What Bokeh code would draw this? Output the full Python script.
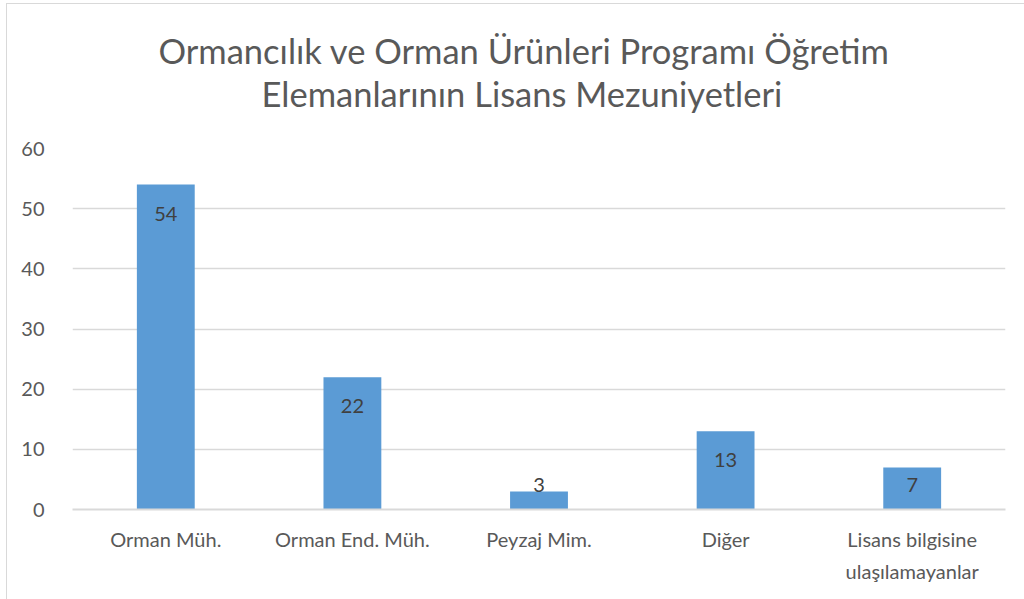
from bokeh.plotting import figure
from bokeh.models import Title, FactorRange, Range1d, ColumnDataSource, FixedTicker
from bokeh.core.properties import value
from bokeh.embed import file_html
from bokeh.resources import INLINE

categories = ["Orman Müh.", "Orman End. Müh.", "Peyzaj Mim.", "Diğer", "Lisans bilgisine\nulaşılamayanlar"]
counts = [54, 22, 3, 13, 7]
y_ticks = [0, 10, 20, 30, 40, 50, 60]
title_lines = ["Ormancılık ve Orman Ürünleri Programı Öğretim", "Elemanlarının Lisans Mezuniyetleri"]

FONT = "Lato"
GRAY = "#595959"
GRID = "#d9d9d9"
BAR = "#5b9bd5"

W, H = 1017, 595
LEFT, RIGHT, TOP, BOTTOM = 65, 19, 144, 90
frame_h = H - TOP - BOTTOM
ymax = 60
px_per_unit = frame_h / ymax

p = figure(
    width=W, height=H,
    x_range=FactorRange(*categories, range_padding=0),
    y_range=Range1d(0, ymax),
    output_backend="svg", toolbar_location=None,
    min_border_left=LEFT, min_border_right=RIGHT,
    min_border_top=TOP, min_border_bottom=BOTTOM,
    background_fill_color="white", border_fill_color="white",
    outline_line_color=None,
)
p.title = None
p.styles = {"outline": "1px solid #d9d9d9", "margin-left": "7px", "margin-top": "4px"}

# spacer between the title block and the plot area, then line 2, then line 1
p.add_layout(Title(text=" ", text_font_size="1px", standoff=32), "above")
p.add_layout(Title(text=title_lines[1], align="left", offset=189, text_font=FONT, text_font_size="34.5px",
                   text_color=GRAY, text_font_style="normal", text_line_height=0.7,
                   standoff=0), "above")
p.add_layout(Title(text=title_lines[0], align="left", offset=86, text_font=FONT, text_font_size="34.5px",
                   text_color=GRAY, text_font_style="normal", text_line_height=1.0,
                   standoff=0), "above")

src = ColumnDataSource(dict(
    x=categories, top=counts, lab=[str(c) for c in counts],
    off=[min(29, c * px_per_unit - 25) for c in counts],
))
p.vbar(x="x", top="top", width=0.31, source=src, fill_color=BAR, line_color=None)
p.text(x="x", y="top", text="lab", y_offset="off", source=src,
       text_align="center", text_baseline="middle",
       text_font=value(FONT), text_font_size="20px", text_color="#404040")

p.yaxis.ticker = FixedTicker(ticks=y_ticks)
p.yaxis.axis_line_color = None
p.yaxis.major_tick_line_color = None
p.yaxis.minor_tick_line_color = None
p.yaxis.major_label_text_font = FONT
p.yaxis.major_label_text_font_size = "20px"
p.yaxis.major_label_text_color = GRAY
p.yaxis.major_label_standoff = 22

p.xaxis.axis_line_color = GRID
p.xaxis.axis_line_width = 2
p.xaxis.major_tick_line_color = None
p.xaxis.minor_tick_line_color = None
p.xaxis.major_label_text_font = FONT
p.xaxis.major_label_text_font_size = "20px"
p.xaxis.major_label_text_color = GRAY
p.xaxis.major_label_text_line_height = 1.36
p.xaxis.major_label_standoff = 11

p.xgrid.grid_line_color = None
p.ygrid.grid_line_color = GRID
p.ygrid.grid_line_width = 1.5

open("out.html", "w").write(file_html(p, INLINE))
